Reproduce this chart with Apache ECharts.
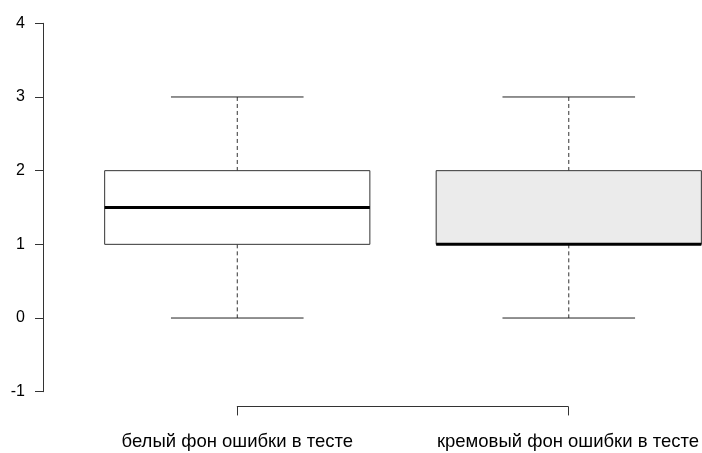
<!DOCTYPE html>
<html>
<head>
<meta charset="utf-8">
<script src="https://cdn.jsdelivr.net/npm/echarts@6/dist/echarts.min.js"></script>
<style>
  html, body { margin: 0; padding: 0; background: #fff; }
  #chart { width: 702px; height: 453px; }
</style>
</head>
<body>
<div id="chart"></div>
<script>
// Groups and their five-number summaries
const categories = ['белый фон ошибки в тесте', 'кремовый фон ошибки в тесте'];
const positions = [1, 2];
const lowerWhisker = [0, 0];
const q1 = [1, 1];
const median = [1.5, 1];
const q3 = [2, 2];
const upperWhisker = [3, 3];
const boxFills = ['#ffffff', '#ebebeb'];
const yTicks = [-1, 0, 1, 2, 3, 4];

const boxData = positions.map((p, i) => [p, lowerWhisker[i], q1[i], median[i], q3[i], upperWhisker[i], i]);

// Plot region: x starts at 0.42, one group unit = UNIT px
const W = 702;
const UNIT = 331.5;
const LEFT = 45;
const X_MIN = 0.42;
const X_MAX = X_MIN + (W - LEFT) / UNIT;
const TOP = 23.3;
const BOTTOM_Y = 391.7;
const HEIGHT = BOTTOM_Y - TOP;
const STEP = HEIGHT / 5;      // px per y unit
const XOFF = 0.2 * STEP;      // x axis sits 0.2 units below -1

const font = 'Liberation Sans, Arial, Helvetica, sans-serif';

function renderBox(params, api) {
  const x = api.value(0);
  const lo = api.value(1), a = api.value(2), m = api.value(3), b = api.value(4), hi = api.value(5);
  const idx = api.value(6);
  const halfBox = 0.4, halfCap = 0.2;
  const pL = api.coord([x - halfBox, b]);
  const pR = api.coord([x + halfBox, a]);
  const cL = api.coord([x - halfCap, hi]);
  const cR = api.coord([x + halfCap, hi]);
  const dL = api.coord([x - halfCap, lo]);
  const dR = api.coord([x + halfCap, lo]);
  const cTop = api.coord([x, hi]);
  const bTop = api.coord([x, b]);
  const bBot = api.coord([x, a]);
  const cBot = api.coord([x, lo]);
  const mL = api.coord([x - halfBox, m]);
  const mR = api.coord([x + halfBox, m]);
  const line = { stroke: '#222', lineWidth: 1 };
  return {
    type: 'group',
    children: [
      { type: 'line', shape: { x1: cTop[0], y1: cTop[1], x2: bTop[0], y2: bTop[1] },
        style: { stroke: '#333', lineWidth: 1, lineDash: [4, 3] } },
      { type: 'line', shape: { x1: bBot[0], y1: bBot[1], x2: cBot[0], y2: cBot[1] },
        style: { stroke: '#333', lineWidth: 1, lineDash: [4, 3] } },
      { type: 'line', shape: { x1: cL[0], y1: cL[1], x2: cR[0], y2: cR[1] }, style: line },
      { type: 'line', shape: { x1: dL[0], y1: dL[1], x2: dR[0], y2: dR[1] }, style: line },
      { type: 'rect', shape: { x: pL[0], y: pL[1], width: pR[0] - pL[0], height: pR[1] - pL[1] },
        style: { fill: boxFills[idx], stroke: '#333', lineWidth: 1 } },
      { type: 'line', shape: { x1: mL[0], y1: mL[1], x2: mR[0], y2: mR[1] },
        style: { stroke: '#000', lineWidth: 3 } }
    ]
  };
}

const chart = echarts.init(document.getElementById('chart'), null, { renderer: 'canvas' });
chart.setOption({
  backgroundColor: '#ffffff',
  animation: false,
  grid: [
    { left: LEFT, top: TOP, right: 0, height: HEIGHT, containLabel: false },
    { left: LEFT + (1 - X_MIN) * UNIT, top: TOP, width: UNIT, height: HEIGHT, containLabel: false }
  ],
  xAxis: [
    { gridIndex: 0, type: 'value', min: X_MIN, max: X_MAX, show: false },
    {
      gridIndex: 1, type: 'value', min: 1, max: 2, interval: 1,
      position: 'bottom', offset: XOFF,
      splitLine: { show: false },
      axisLine: { show: true, onZero: false, lineStyle: { color: '#333', width: 1 } },
      axisTick: { show: true, length: 9, lineStyle: { color: '#333', width: 1 } },
      axisLabel: {
        show: true, margin: 26, color: '#000', fontSize: 18.5, fontFamily: font,
        formatter: v => categories[positions.indexOf(v)] || ''
      }
    }
  ],
  yAxis: [
    {
      gridIndex: 0, type: 'value', min: yTicks[0], max: yTicks[yTicks.length - 1], interval: 1,
      offset: 2,
      splitLine: { show: false },
      axisLine: { show: true, onZero: false, lineStyle: { color: '#333', width: 1 } },
      axisTick: { show: true, length: 8, lineStyle: { color: '#333', width: 1 } },
      axisLabel: { margin: 18, color: '#000', fontSize: 16, fontFamily: font }
    },
    { gridIndex: 1, type: 'value', min: -1, max: 4, show: false }
  ],
  series: [
    {
      type: 'custom',
      xAxisIndex: 0, yAxisIndex: 0,
      renderItem: renderBox,
      encode: { x: 0, y: [1, 2, 3, 4, 5] },
      data: boxData,
      clip: false,
      silent: true
    }
  ]
});
</script>
</body>
</html>
